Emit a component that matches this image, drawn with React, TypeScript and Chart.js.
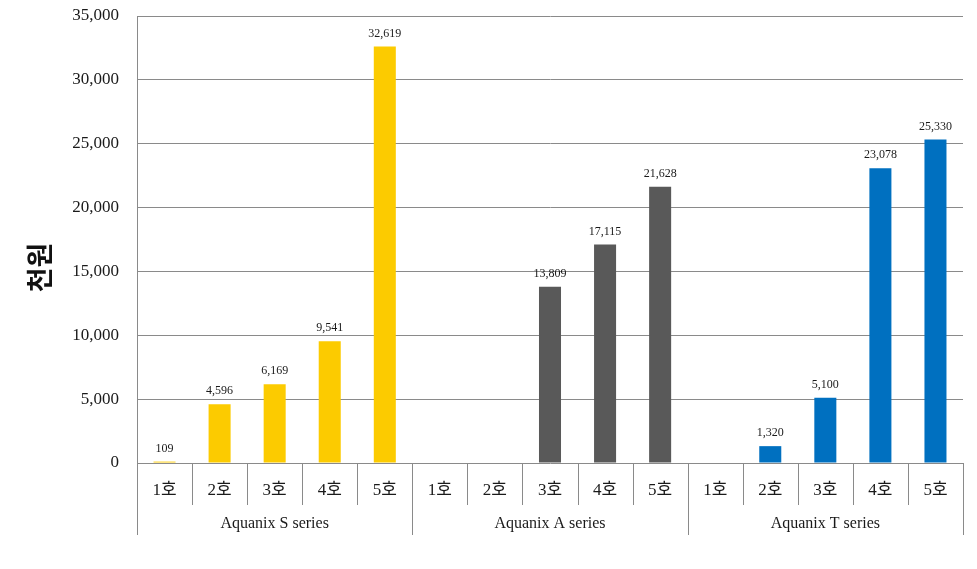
import React, { useEffect, useRef } from "react";
import { Chart, registerables } from "chart.js";

Chart.register(...registerables);

const subCategories = ["1호", "2호", "3호", "4호", "5호"];
const groups = ["Aquanix S series", "Aquanix A series", "Aquanix T series"];
const sSeries: (number | null)[] = [109, 4596, 6169, 9541, 32619];
const aSeries: (number | null)[] = [null, null, 13809, 17115, 21628];
const tSeries: (number | null)[] = [null, 1320, 5100, 23078, 25330];
const groupColors = ["#FCCB00", "#595959", "#0070C0"];
const yTitle = "천원";

const SERIF = "'Liberation Serif', 'Times New Roman', 'Noto Sans CJK KR', serif";
const LINE = "#8a8a8a";

export default function App() {
  const ref = useRef<HTMLCanvasElement | null>(null);

  useEffect(() => {
    if (!ref.current) return;
    const labels: string[] = [];
    groups.forEach(() => subCategories.forEach((c) => labels.push(c)));
    const values = [...sSeries, ...aSeries, ...tSeries];
    const colors: string[] = [];
    groups.forEach((_, gi) => subCategories.forEach(() => colors.push(groupColors[gi])));

    const overlay = {
      id: "overlay",
      afterDraw(chart: any) {
        const ctx = chart.ctx;
        const area = chart.chartArea;
        const n = labels.length;
        const w = (area.right - area.left) / n;
        ctx.save();
        ctx.strokeStyle = LINE;
        ctx.lineWidth = 1;
        for (let i = 0; i <= n; i++) {
          const x = Math.round(area.left + i * w) + 0.5;
          const len = i % subCategories.length === 0 ? 72 : 42;
          ctx.beginPath();
          ctx.moveTo(x, area.bottom);
          ctx.lineTo(x, area.bottom + len);
          ctx.stroke();
        }
        ctx.fillStyle = "#1a1a1a";
        ctx.font = `16px ${SERIF}`;
        ctx.textAlign = "center";
        ctx.textBaseline = "middle";
        groups.forEach((g, gi) => {
          const cx = area.left + (gi * subCategories.length + subCategories.length / 2) * w;
          ctx.fillText(g, cx, area.bottom + 61);
        });
        // data labels
        const meta = chart.getDatasetMeta(0);
        ctx.font = `12px ${SERIF}`;
        ctx.textBaseline = "bottom";
        values.forEach((v, i) => {
          if (v === null || v === undefined) return;
          const el = meta.data[i];
          ctx.fillText(v.toLocaleString("en-US"), el.x, el.y - 7);
        });
        // y title
        ctx.save();
        ctx.translate(40, (area.top + area.bottom) / 2 + 28);
        ctx.rotate(-Math.PI / 2);
        ctx.font = "bold 27px 'Noto Sans CJK KR', sans-serif";
        ctx.fillStyle = "#111";
        ctx.textAlign = "center";
        ctx.textBaseline = "middle";
        ctx.fillText(yTitle, 0, 0);
        ctx.restore();
        ctx.restore();
      },
    };

    const chart = new Chart(ref.current, {
      type: "bar",
      data: {
        labels,
        datasets: [
          {
            data: values as any,
            backgroundColor: colors,
            borderWidth: 0,
            barPercentage: 0.4,
            categoryPercentage: 1,
          },
        ],
      },
      options: {
        responsive: false,
        animation: false,
        layout: { padding: { top: 16, right: 14, left: 0, bottom: 0 } },
        plugins: { legend: { display: false }, tooltip: { enabled: false } },
        scales: {
          x: {
            grid: { display: false, drawTicks: false },
            border: { display: false },
            ticks: {
              font: { family: SERIF, size: 17 },
              color: "#1a1a1a",
              padding: 17,
              maxRotation: 0,
              autoSkip: false,
            },
            afterFit: (s: any) => {
              s.height = 106;
              s.paddingLeft = 0;
              s.paddingRight = 0;
            },
          },
          y: {
            min: 0,
            max: 35000,
            grid: { color: LINE, drawTicks: false },
            border: { display: true, color: LINE },
            ticks: {
              stepSize: 5000,
              font: { family: SERIF, size: 17 },
              color: "#1a1a1a",
              padding: 18,
              callback: (v: any) => Number(v).toLocaleString("en-US"),
            },
            afterFit: (s: any) => {
              s.width = 137;
              s.paddingTop = 0;
              s.paddingBottom = 0;
            },
          },
        },
      },
      plugins: [overlay],
    });
    return () => chart.destroy();
  }, []);

  return (
    <div style={{ position: "fixed", left: 0, top: 0, width: 977, height: 569, background: "#fff" }}>
      <canvas ref={ref} width={977} height={569} />
    </div>
  );
}
